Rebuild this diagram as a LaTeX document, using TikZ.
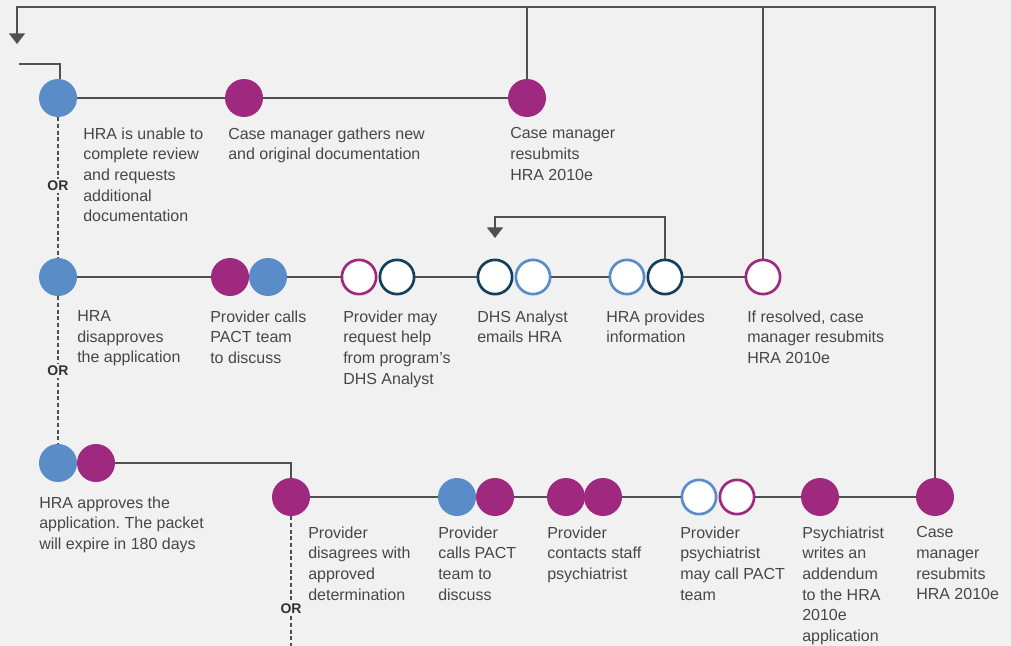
\documentclass[tikz,border=0pt]{standalone}
\usepackage{fontspec}
\setmainfont{Liberation Sans}
\usetikzlibrary{arrows.meta}
\definecolor{bg}{HTML}{F0F1F0}
\definecolor{cblue}{HTML}{5A8CC8}
\definecolor{cmag}{HTML}{9E297E}
\definecolor{cnavy}{HTML}{123F5E}
\definecolor{txt}{HTML}{474747}
\definecolor{ln}{HTML}{505050}
\frenchspacing
\begin{document}
\begin{tikzpicture}[x=0.75pt,y=-0.75pt,
  dotf/.style={circle, fill=#1, minimum size=28.5pt, inner sep=0pt},
  doto/.style={circle, draw=#1, fill=white, line width=2pt, minimum size=25.7pt, inner sep=0pt},
  lab/.style={anchor=north west, inner sep=0pt, align=left, font=\fontsize{12}{15.5}\selectfont\frenchspacing, text=txt},
  conn/.style={draw=ln, line width=1.1pt},
  dsh/.style={draw=ln, line width=0.8pt, dash pattern=on 3pt off 2pt},
  orl/.style={font=\bfseries\fontsize{10.5}{12}\selectfont, text=txt!70!black, fill=bg, inner sep=1.5pt},
  tip/.style={-{Triangle[width=12pt,length=8pt]}}
]
\fill[bg] (0,0) rectangle (1011,646);
\useasboundingbox (0,0) rectangle (1011,646);

% row 1
\node[dotf=cblue] (a1) at (58,98) {};
\node[dotf=cmag] (a2) at (244,98) {};
\node[dotf=cmag] (a3) at (527,98) {};
% row 2
\node[dotf=cblue] (b1) at (58,277) {};
\node[dotf=cmag] (b2) at (230,277) {};
\node[dotf=cblue] (b3) at (268,277) {};
\node[doto=cmag] (b4) at (359,277) {};
\node[doto=cnavy] (b5) at (397,277) {};
\node[doto=cnavy] (b6) at (495,277) {};
\node[doto=cblue] (b7) at (533,277) {};
\node[doto=cblue] (b8) at (627,277) {};
\node[doto=cnavy] (b9) at (665,277) {};
\node[doto=cmag] (b10) at (763,277) {};
% row 3
\node[dotf=cblue] (c1) at (58,463) {};
\node[dotf=cmag] (c2) at (96,463) {};
% row 4
\node[dotf=cmag] (d1) at (291,497) {};
\node[dotf=cblue] (d2) at (457,497) {};
\node[dotf=cmag] (d3) at (495,497) {};
\node[dotf=cmag] (d4) at (566,497) {};
\node[dotf=cmag] (d5) at (603,497) {};
\node[doto=cblue] (d6) at (699,497) {};
\node[doto=cmag] (d7) at (737,497) {};
\node[dotf=cmag] (d8) at (820,497) {};
\node[dotf=cmag] (d9) at (935,497) {};

% coordinates
\coordinate (tl) at (17,7);
\coordinate (ar1) at (17,44);
\coordinate (l1) at (19,64);
\coordinate (lp) at (495,217);
\coordinate (ar2) at (495,238);
\coordinate (bot) at (291,646);

% solid connectors
\draw[conn] (a1) -- (a2);
\draw[conn] (a2) -- (a3);
\draw[conn] (b1) -- (b2);
\draw[conn] (b3) -- (b4);
\draw[conn] (b5) -- (b6);
\draw[conn] (b7) -- (b8);
\draw[conn] (b9) -- (b10);
\draw[conn] (c2) -| (d1);
\draw[conn] (d1) -- (d2);
\draw[conn] (d3) -- (d4);
\draw[conn] (d5) -- (d6);
\draw[conn] (d7) -- (d8);
\draw[conn] (d8) -- (d9);

% loops
\draw[conn,tip] (d9.north) |- (tl) -- (ar1);
\draw[conn] (a3.north) -- (a3.north |- tl);
\draw[conn] (b10.north) -- (b10.north |- tl);
\draw[conn] (l1) -| ([xshift=1.5pt]a1.north);
\draw[conn,tip] (b9.north) |- (lp) -- (ar2);

% dashed OR lines
\draw[dsh] (a1) -- (b1);
\draw[dsh] (b1) -- (c1);
\draw[dsh] (d1) -- (bot);
\node[orl] (or1) at (58,186) {OR};
\node[orl] (or2) at (58,371) {OR};
\node[orl] (or3) at (291,609) {OR};

% labels (positioned by top of first line)
\node[lab] (t1) at (83,127.3) {HRA is unable to\\complete review\\and requests\\additional\\documentation};
\node[lab] (t2) at (228,127.3) {Case manager gathers new\\and original documentation};
\node[lab] (t3) at (510,127.3) {Case manager\\resubmits\\HRA 2010e};

\node[lab] (t4) at (77,310.3) {HRA\\disapproves\\the application};
\node[lab] (t5) at (210,310.3) {Provider calls\\PACT team\\to discuss};
\node[lab] (t6) at (343,310.3) {Provider may\\request help\\from program’s\\DHS Analyst};
\node[lab] (t7) at (477,310.3) {DHS Analyst\\emails HRA};
\node[lab] (t8) at (606,310.3) {HRA provides\\information};
\node[lab] (t9) at (747,310.3) {If resolved, case\\manager resubmits\\HRA 2010e};

\node[lab] (t10) at (39,496.3) {HRA approves the\\application. The packet\\will expire in 180 days};

\node[lab] (t11) at (308,526.3) {Provider\\disagrees with\\approved\\determination};
\node[lab] (t12) at (438,526.3) {Provider\\calls PACT\\team to\\discuss};
\node[lab] (t13) at (547,526.3) {Provider\\contacts staff\\psychiatrist};
\node[lab] (t14) at (680,526.3) {Provider\\psychiatrist\\may call PACT\\team};
\node[lab] (t15) at (802,526.3) {Psychiatrist\\writes an\\addendum\\to the HRA\\2010e\\application};
\node[lab] (t16) at (916,526.3) {Case\\manager\\resubmits\\HRA 2010e};
\end{tikzpicture}
\end{document}
